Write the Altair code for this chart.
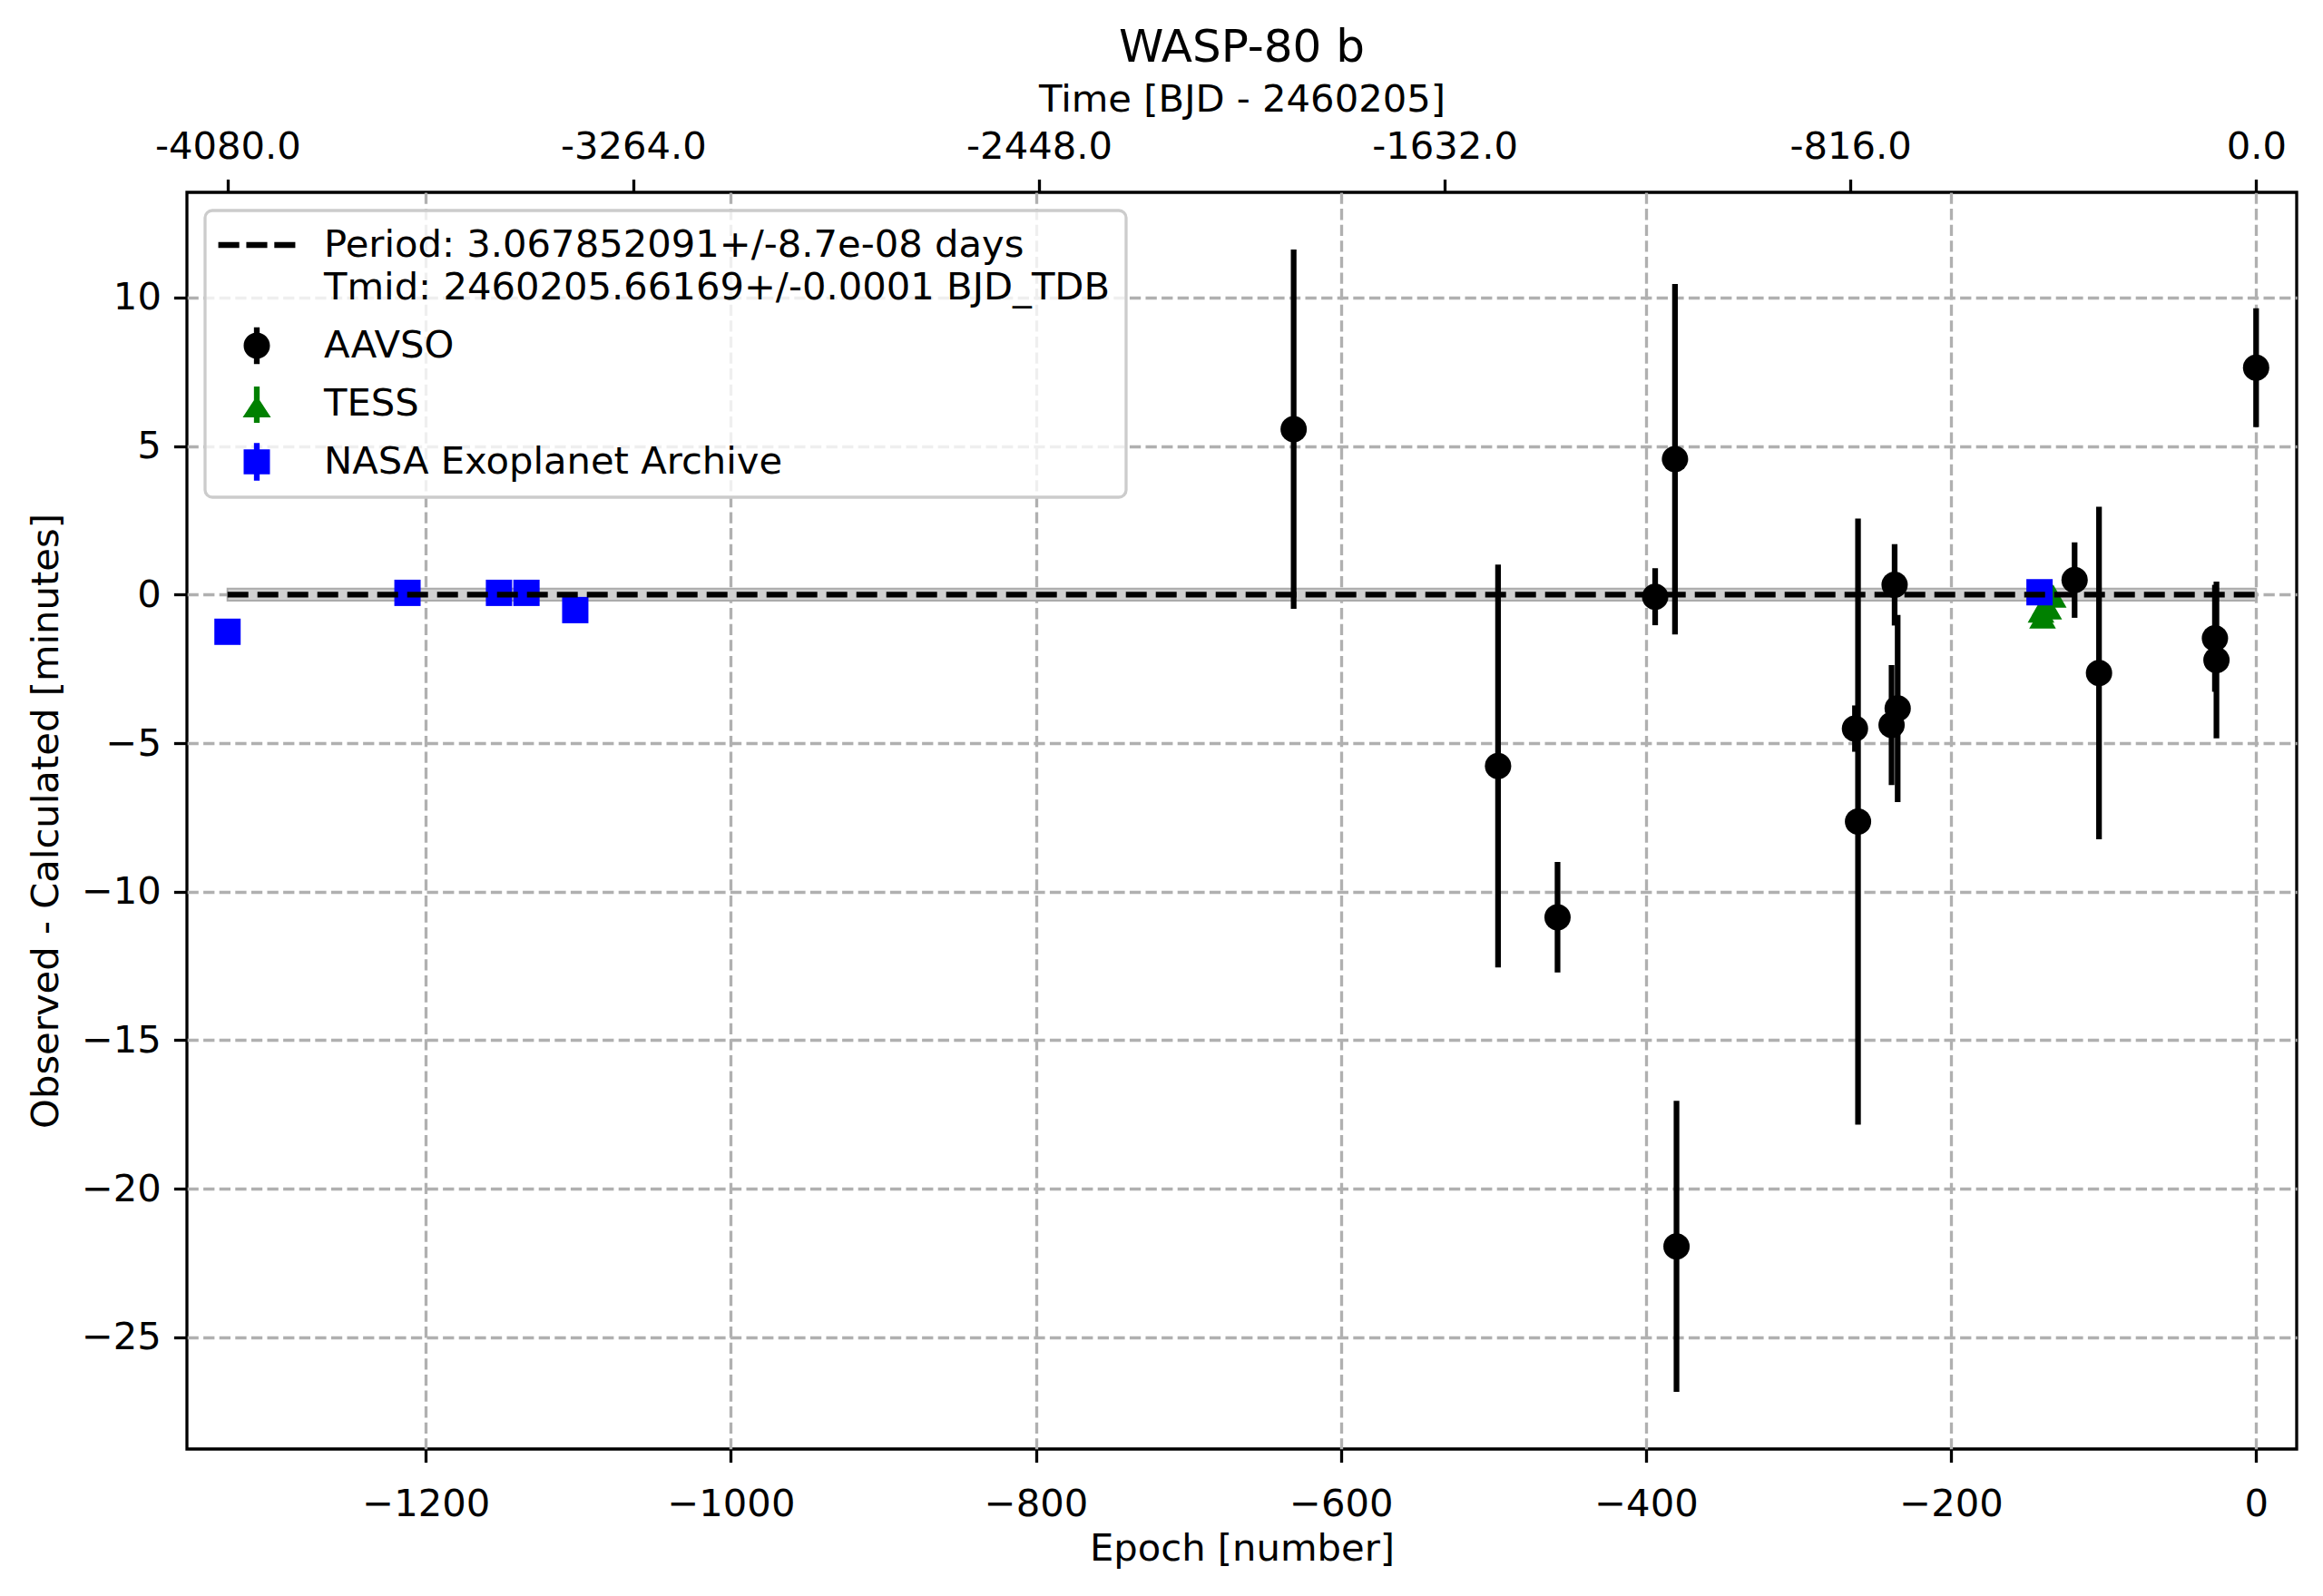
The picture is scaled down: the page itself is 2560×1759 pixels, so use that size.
import altair as alt
import pandas as pd

period = 3.067852091
fit_sigma = 0.2  # width of the grey band round the linear ephemeris (minutes)

# AAVSO observers: epoch, O-C [min], error [min]
aavso_epoch = [-631, -497, -458, -394, -381, -380, -263, -261, -239, -237, -235, -119, -103, -27, -26, 0]
aavso_oc = [5.57, -5.77, -10.86, -0.07, 4.56, -21.94, -4.51, -7.64, -4.39, 0.33, -3.83, 0.49, -2.64, -1.47, -2.2, 7.64]
aavso_err = [6.05, 6.78, 1.86, 0.96, 5.9, 4.9, 0.78, 10.2, 2.02, 1.37, 3.15, 1.27, 5.6, 1.8, 2.64, 2.0]

# TESS
tess_epoch = [-141, -140, -138, -136, -133]
tess_oc = [-0.55, -0.75, -0.3, -0.45, -0.05]
tess_err = [0.12, 0.1, 0.12, 0.1, 0.12]

# NASA Exoplanet Archive
nasa_epoch = [-1330, -1212, -1152, -1134, -1102, -142]
nasa_oc = [-1.25, 0.06, 0.06, 0.06, -0.52, 0.08]
nasa_err = [0.08, 0.05, 0.05, 0.05, 0.08, 0.03]

epoch_ticks = [-1200, -1000, -800, -600, -400, -200, 0]
oc_ticks = [-25, -20, -15, -10, -5, 0, 5, 10]
time_ticks = [-4080.0, -3264.0, -2448.0, -1632.0, -816.0, 0.0]

legend_names = ['fit', 'AAVSO', 'TESS', 'NASA Exoplanet Archive']
legend_colors = ['black', 'black', 'green', 'blue']
# legend glyphs (marker + errorbar stub), unit box scaled by sqrt(size)/2
legend_paths = [
    'M-2.02,-0.15H-0.92V0.15H-2.02Z M-0.55,-0.15H0.55V0.15H-0.55Z M0.92,-0.15H2.02V0.15H0.92Z',
    'M-0.15,-0.97H0.15V0.97H-0.15Z M-0.69,0A0.69,0.69 0 1,1 0.69,0A0.69,0.69 0 1,1 -0.69,0Z',
    'M-0.15,-0.9H0.15V1H-0.15Z M0,-0.42L0.74,0.72L-0.74,0.72Z',
    'M-0.15,-0.99H0.15V0.99H-0.15Z M-0.69,-0.66H0.69V0.66H-0.69Z',
]
fit_label = "['Period: 3.067852091+/-8.7e-08 days', 'Tmid: 2460205.66169+/-0.0001 BJD_TDB']"


def table(name, epoch, oc, err):
    df = pd.DataFrame({'epoch': epoch, 'oc': oc, 'err': err})
    df['source'] = name
    df['lo'] = df['oc'] - df['err']
    df['hi'] = df['oc'] + df['err']
    return df


aavso = table('AAVSO', aavso_epoch, aavso_oc, aavso_err)
tess = table('TESS', tess_epoch, tess_oc, tess_err)
nasa = table('NASA Exoplanet Archive', nasa_epoch, nasa_oc, nasa_err)
obs = pd.concat([aavso, tess, nasa])

# matplotlib-like margins: 2% in x, 5% in y
e0, e1 = obs['epoch'].min(), obs['epoch'].max()
xpad = (e1 - e0) * 0.02
x_dom = [e0 - xpad, e1 + xpad]
y0, y1 = obs['lo'].min(), obs['hi'].max()
ypad = (y1 - y0) * 0.05
y_dom = [y0 - ypad, y1 + ypad]

fit = pd.DataFrame({'epoch': [e0, e1]})
fit['time'] = fit['epoch'] * period
fit['oc'] = 0.0
fit['lo'] = -fit_sigma
fit['hi'] = fit_sigma

FONT = 'DejaVu Sans'


def xe(field='epoch'):
    return alt.X(f'{field}:Q', scale=alt.Scale(domain=x_dom, nice=False, zero=False),
                 axis=alt.Axis(title='Epoch [number]', values=epoch_ticks, format='d',
                               orient='bottom', grid=True, labelPadding=26, titlePadding=7))


def ye(field):
    return alt.Y(f'{field}:Q', scale=alt.Scale(domain=y_dom, nice=False, zero=False),
                 axis=alt.Axis(title='Observed - Calculated [minutes]', values=oc_ticks,
                               format='d', grid=True, titlePadding=17))


band = alt.Chart(fit).mark_area(color='#d0d0d0', opacity=1, stroke='#ababab', strokeWidth=2).encode(
    x=xe(), y=ye('lo'), y2='hi:Q'
)


def series(df, color, shape, size):
    bars = alt.Chart(df).mark_rule(color=color, strokeWidth=6.25).encode(
        x=xe(), y=ye('lo'), y2='hi:Q'
    )
    pts = alt.Chart(df).mark_point(shape=shape, filled=True, size=size, color=color,
                                   opacity=1, strokeWidth=0).encode(
        x=xe(), y=ye('oc')
    )
    return [bars, pts]


leg = alt.Legend(
    title=None, orient='top-left', offset=20,
    labelExpr=f"datum.value == 'fit' ? {fit_label} : datum.value",
    labelFont=FONT, labelFontSize=41.7, labelColor='black', labelLimit=3000,
    symbolSize=1764, symbolStrokeWidth=0, symbolOpacity=1,
    symbolOffset=19, labelOffset=53, rowPadding=21, padding=17,
    fillColor='rgba(255,255,255,0.8)', strokeColor='#cccccc', cornerRadius=8,
)

legend_layer = alt.Chart(pd.DataFrame({'source': legend_names})).mark_point(
    filled=True, opacity=1
).encode(
    color=alt.Color('source:N', scale=alt.Scale(domain=legend_names, range=legend_colors), legend=leg),
    shape=alt.Shape('source:N', scale=alt.Scale(domain=legend_names, range=legend_paths), legend=leg),
).transform_filter('false')

fit_line = alt.Chart(fit).mark_line(color='black', strokeWidth=6.25, strokeDash=[23, 10]).encode(
    x=alt.X('time:Q', scale=alt.Scale(domain=[x_dom[0] * period, x_dom[1] * period], nice=False, zero=False),
            axis=alt.Axis(orient='top', title='Time [BJD - 2460205]', values=time_ticks, grid=False,
                          titlePadding=10,
                          labelExpr="(datum.value < 0 ? '-' : '') + format(abs(datum.value), '.1f')")),
    y=ye('oc'),
)

inner = alt.layer(
    band,
    *series(aavso, 'black', 'circle', 841),
    *series(tess, 'green', 'triangle-up', 870),
    *series(nasa, 'blue', 'square', 841),
    legend_layer,
)

chart = alt.layer(inner, fit_line).resolve_scale(x='independent').properties(
    width=2325, height=1385,
    background='white',
    padding={'left': 22, 'top': 20, 'right': 20, 'bottom': 20},
    title=alt.TitleParams('WASP-80 b', anchor='middle'),
).configure(
    style={'guide-label': {'lineHeight': 47}}
).configure_axis(
    labelFont=FONT, titleFont=FONT, labelFontSize=41.7, titleFontSize=41.7,
    labelColor='black', titleColor='black', titleFontWeight='normal',
    domain=False, tickColor='black', tickWidth=3.3, tickSize=14.6, labelPadding=14,
    gridColor='#b0b0b0', gridDash=[12.3, 5.3], gridWidth=3.3,
).configure_view(
    stroke='black', strokeWidth=3.3
).configure_title(
    font=FONT, fontSize=50, fontWeight='normal', color='black', offset=11
).configure_legend(
    strokeWidth=3.3
)

chart.save("out.html", embed_options={"renderer": "svg", "actions": False})
